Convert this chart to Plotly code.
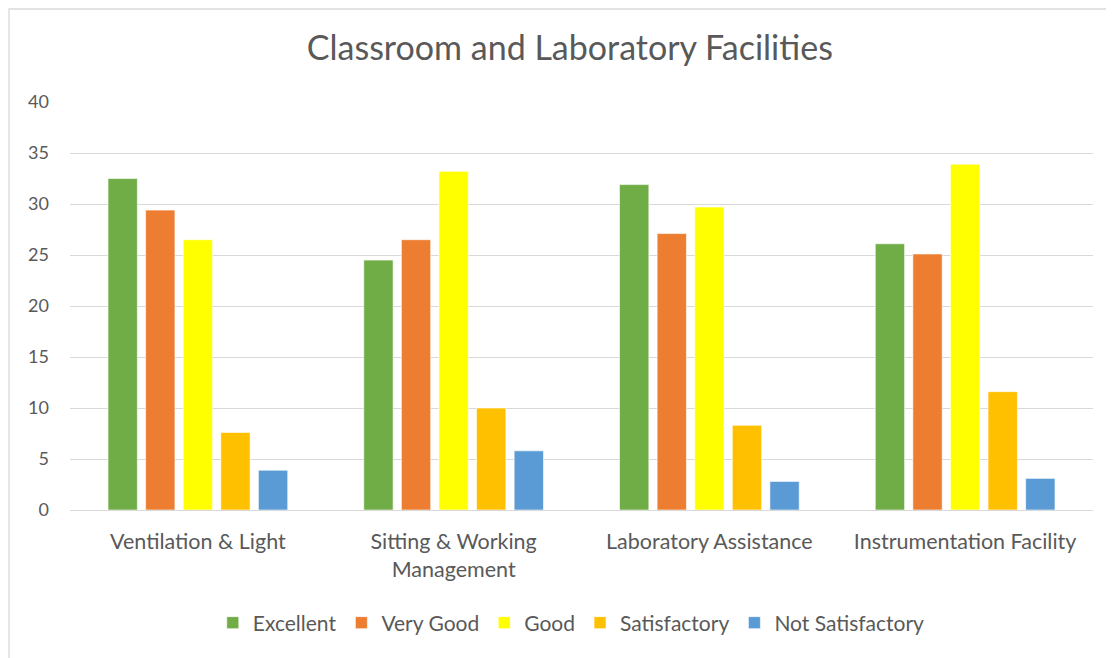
import plotly.graph_objects as go

# categories and series
categories = ["Ventilation & Light", "Sitting & Working<br>Management",
              "Laboratory Assistance", "Instrumentation Facility"]
excellent = [32.5, 24.5, 31.9, 26.1]
very_good = [29.4, 26.5, 27.1, 25.1]
good = [26.5, 33.2, 29.7, 33.9]
satisfactory = [7.6, 10.0, 8.3, 11.6]
not_satisfactory = [3.9, 5.8, 2.8, 3.1]

series = [
    ("Excellent", excellent, "#70AD47"),
    ("Very Good", very_good, "#ED7D31"),
    ("Good", good, "#FFFF00"),
    ("Satisfactory", satisfactory, "#FFC000"),
    ("Not Satisfactory", not_satisfactory, "#5B9BD5"),
]

FONT = "Lato, 'Open Sans', sans-serif"
TXT = "#595959"

# page body has an 8px margin, so the figure is 8px smaller and shifted
W, H = 1106, 650
ML, MR, MT, MB = 62, 21, 94, 148
PW, PH = W - ML - MR, H - MT - MB

fig = go.Figure()
for name, vals, col in series:
    fig.add_trace(go.Bar(
        x=categories, y=vals, name=name,
        marker=dict(color=col, line=dict(color="white", width=0.6)),
    ))

fig.update_layout(
    width=W, height=H,
    paper_bgcolor="white", plot_bgcolor="white",
    barmode="group", bargap=0.265, bargroupgap=0.22,
    margin=dict(l=ML, r=MR, t=MT, b=MB),
    font=dict(family=FONT, color=TXT, size=19),
    title=dict(text="Classroom and Laboratory Facilities", x=0.508, xanchor="center",
               y=1 - 40 / H, yanchor="middle", font=dict(size=34, color=TXT)),
    legend=dict(orientation="h", x=0.49, xanchor="center", y=-113 / PH, yanchor="middle",
                font=dict(size=21, color=TXT), itemwidth=30, traceorder="normal"),
    showlegend=True,
)
fig.update_yaxes(range=[0, 40], dtick=5, showgrid=True, gridcolor="#d9d9d9",
                 gridwidth=1.3, zeroline=False, ticks="", ticklabelstandoff=20,
                 tickfont=dict(size=18, color=TXT))
fig.update_xaxes(showline=True, linecolor="#d9d9d9", linewidth=1.3, ticks="",
                 ticklabelstandoff=12, tickfont=dict(size=21.5, color=TXT))

# light outer frame like the chart area border
fig.add_shape(type="rect", xref="paper", yref="paper",
              x0=(1 - ML) / PW, x1=(W - 2 - ML) / PW,
              y0=-(MB + 10) / PH, y1=1 + (MT - 1) / PH,
              line=dict(color="#d9d9d9", width=1.3), fillcolor="rgba(0,0,0,0)")

fig.write_html("out.html")
